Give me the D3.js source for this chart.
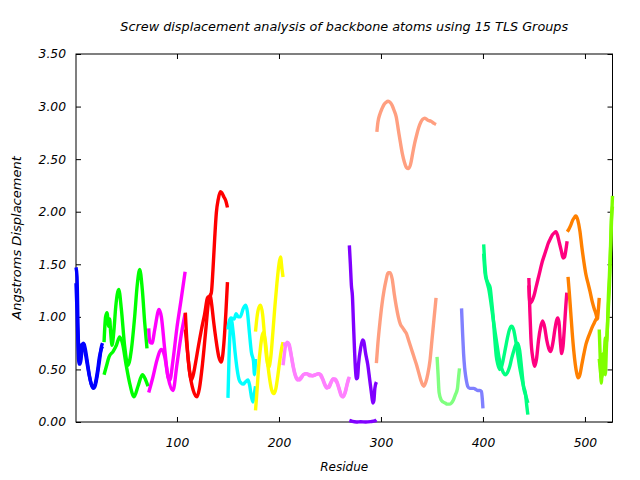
<!DOCTYPE html>
<html><head><meta charset="utf-8">
<script src="https://cdn.jsdelivr.net/npm/d3@7"></script>
<style>
html,body{margin:0;padding:0;background:#fff;}
text{font-family:"DejaVu Sans",sans-serif;font-style:italic;font-size:12px;fill:#000;}
</style></head>
<body>
<svg id="chart" width="640" height="480"></svg>
<script>
// ---- Data (residue, displacement) ----
const chartTitle = "Screw displacement analysis of backbone atoms using 15 TLS Groups";
const xLabel = "Residue";
const yLabel = "Angstroms Displacement";
const xTicks = [100, 200, 300, 400, 500];
const yTicks = [0, 0.5, 1.0, 1.5, 2.0, 2.5, 3.0, 3.5];
const groupColors = ["#0000ff","#00ff00","#ff00ff","#ff0000","#00ffff","#ffff00","#ff80ff","#8000ff","#ff9f80","#80ff80","#8080ff","#00ff80","#ff0080","#ff8000","#80ff00"];

const blueA = [[1,1.47],[2,1.38],[3,0.9],[4,0.6],[5,0.55],[6,0.6],[7,0.7],[8,0.75],[9,0.74],[10,0.7],[12,0.58],[14,0.45],[16,0.36],[18,0.32],[20,0.35],[22,0.45],[24,0.58],[26,0.72],[27,0.75]];
const blueB = [[1,1.32],[2,1.05],[3,0.72],[4,0.55],[5,0.62],[6,0.72],[7,0.74],[8,0.72],[10,0.66],[12,0.55],[14,0.44],[16,0.36],[18,0.33],[20,0.37],[22,0.48],[24,0.62],[26,0.7],[27,0.72]];
const greenA = [[28.5,0.76],[30,1.0],[31.4,1.04],[33,0.91],[34,0.98],[35,0.85],[36.3,0.73],[38,0.85],[40,1.1],[42.9,1.26],[45.5,1.07],[48.7,0.72],[52,0.54],[55.3,0.69],[58.5,1.0],[61,1.3],[63.5,1.45],[66,1.26],[68.4,0.94],[70.6,0.7]];
const greenB = [[28.5,0.45],[30.8,0.53],[33.4,0.62],[37.3,0.67],[40.6,0.73],[43.8,0.81],[46.5,0.75],[50.4,0.53],[53.6,0.37],[57.9,0.24],[61.8,0.34],[66.1,0.45],[69.3,0.4],[71.6,0.34]];
const magentaA = [[72.3,0.89],[73.3,0.76],[75.5,0.75],[78.2,0.88],[82.4,1.07],[84.7,1.0],[88,0.69],[91.2,0.43],[93,0.4],[96,0.58],[100,0.9],[104,1.16],[108,1.43]];
const magentaB = [[72.3,0.28],[76.5,0.43],[80.4,0.59],[84.7,0.69],[88,0.62],[91.2,0.43],[96.1,0.3],[100,0.55],[104,0.82],[108,1.03]];
const redA = [[108.2,1.04],[110,0.72],[112,0.5],[114,0.38],[116,0.3],[119.6,0.24],[122,0.32],[125,0.55],[128,0.85],[131,1.15],[132.5,1.21],[134,1.12],[136,0.95],[138,0.8],[141,0.62],[143.5,0.57],[146,0.75],[148,1.05],[149.5,1.33]];
const redB = [[108.2,0.88],[110.8,0.62],[112.5,0.47],[114.1,0.4],[116,0.45],[118,0.55],[121,0.72],[124,0.88],[127,1.02],[130.4,1.19],[132,1.19],[133.7,1.23],[135.3,1.45],[137,1.75],[138.6,1.99],[140.5,2.12],[142.5,2.19],[144,2.18],[146,2.14],[148,2.1],[149.5,2.04]];
const cyanA = [[150,0.88],[151,0.95],[153,0.99],[156,0.98],[158,1.03],[160,1.0],[162,1.0],[165,1.08],[167.4,1.11],[169,1.05],[171,0.85],[173,0.66],[175,0.58],[176,0.45],[177,0.6]];
const cyanB = [[150,0.23],[151,0.6],[152,0.85],[153.3,0.97],[155,0.86],[157,0.66],[159,0.5],[161,0.4],[163,0.37],[165,0.36],[167,0.38],[169.6,0.4],[171,0.36],[173,0.24],[174.5,0.19],[176,0.28],[177,0.34]];
const yellowA = [[177,0.86],[178.5,1.0],[180,1.08],[182,1.11],[184,1.02],[186,0.8],[188,0.6],[190,0.52],[192,0.62],[194,0.85],[196,1.1],[198,1.32],[200,1.5],[201.5,1.57],[203,1.45],[204,1.38]];
const yellowB = [[177,0.11],[178.5,0.3],[180,0.52],[182,0.72],[184.5,0.85],[186.5,0.78],[189,0.55],[191,0.4],[193,0.3],[195,0.27],[197,0.32],[199,0.45],[201,0.6],[203,0.72],[204,0.76]];
const pinkA = [[204,0.54],[205,0.62],[206,0.7],[208,0.76],[210,0.74],[212,0.64],[214,0.53],[216,0.45],[218,0.41],[220,0.4],[222,0.42],[224,0.45],[227,0.46],[230,0.45],[233,0.44],[236,0.45],[239,0.46],[241,0.45],[243,0.41],[245,0.36],[247,0.33],[249,0.33],[251,0.37],[253,0.41],[255,0.41],[257,0.38],[259,0.32],[261,0.26],[263,0.24],[265,0.28],[267,0.36],[269,0.43]];
const pinkB = [[204,0.74],[206,0.74],[208,0.75],[210,0.72],[212,0.63],[214,0.52],[216,0.44],[218,0.4],[220,0.41],[222,0.43],[224,0.45],[227,0.46],[230,0.44],[233,0.44],[236,0.45],[239,0.46],[241,0.44],[243,0.4],[245,0.35],[247,0.32],[249,0.34],[251,0.38],[253,0.41],[255,0.4],[257,0.37],[259,0.31],[261,0.25],[263,0.24],[265,0.29],[267,0.37],[268.5,0.42]];
const purpleA = [[269,1.68],[270,1.5],[271,1.3],[272,1.2],[273,0.95],[274,0.7],[275,0.5],[276,0.41],[277,0.42],[278,0.55],[280,0.7],[282,0.78],[283,0.77],[285,0.65],[287,0.55],[289,0.4],[291,0.25],[292,0.18],[293,0.2],[294,0.32],[295.5,0.38]];
const purpleB = [[269,0.015],[272,0.005],[276,0.0],[280,0.003],[285,0.0],[290,0.004],[294,0.01],[295.5,0.02]];
const salmonA = [[296,2.76],[297,2.85],[299,2.93],[301,2.98],[303,3.02],[305,3.04],[307,3.05],[309,3.04],[311,3.01],[313,2.96],[315,2.9],[317,2.78],[319,2.66],[321,2.55],[323,2.47],[325,2.42],[327,2.41],[329,2.45],[331,2.55],[333,2.65],[335,2.73],[337,2.8],[339,2.85],[341,2.88],[343,2.89],[346,2.87],[349,2.86],[352,2.84],[354,2.83]];
const salmonB = [[295.5,0.56],[297,0.75],[299,0.95],[301,1.12],[303,1.25],[305,1.35],[307,1.42],[309,1.42],[311,1.36],[313,1.22],[315,1.1],[317,1.0],[319,0.93],[321,0.9],[323,0.87],[325,0.84],[327,0.78],[329,0.72],[331,0.66],[333,0.6],[335,0.54],[337,0.47],[339,0.4],[341,0.35],[342,0.34],[344,0.38],[346,0.46],[348,0.58],[350,0.78],[352,0.98],[354,1.18]];
const lightGreenA = [[355,0.62],[356,0.45],[357,0.28],[359,0.21],[361,0.19],[363,0.18],[365,0.17],[367,0.17],[369,0.18],[371,0.21],[373,0.26],[375,0.32],[376,0.42],[377,0.51]];
const periwinkleA = [[379,1.08],[380,0.85],[381,0.65],[382,0.52],[383,0.44],[384,0.38],[385,0.34],[387,0.32],[389,0.32],[391,0.32],[393,0.31],[395,0.3],[397,0.3],[398.5,0.29],[399.5,0.2],[400,0.13]];
const springA = [[400.7,1.69],[401.5,1.55],[403,1.38],[405,1.32],[407,1.28],[408.5,1.15],[410,1.0],[411.5,0.8],[413,0.63],[414.5,0.55],[416.4,0.5],[418,0.52],[420,0.6],[422,0.7],[424,0.8],[426,0.88],[428,0.91],[430,0.88],[432,0.78],[434,0.65],[436,0.52],[438,0.42],[440,0.33],[441.5,0.28],[443,0.15],[444,0.07]];
const springB = [[400.7,1.6],[402,1.42],[404,1.33],[406,1.25],[408,1.12],[410,0.98],[412,0.85],[414,0.72],[416,0.6],[418,0.52],[420,0.47],[422,0.45],[424,0.47],[426,0.52],[428,0.6],[430,0.67],[432,0.73],[434,0.75],[436,0.68],[438,0.5],[440,0.32],[442,0.25],[444,0.18]];
const deepPinkA = [[445,1.3],[446,1.13],[448,1.15],[450,1.2],[452,1.28],[454,1.36],[456,1.44],[458,1.52],[460,1.58],[462,1.64],[464,1.7],[466,1.74],[468,1.78],[470,1.8],[471.5,1.81],[473,1.78],[475,1.7],[477,1.62],[478.5,1.56],[480,1.57],[481.5,1.65],[482.5,1.72]];
const deepPinkB = [[445,1.37],[446,1.05],[447,0.8],[449,0.6],[450.7,0.53],[452.5,0.6],[454.5,0.78],[456.5,0.9],[458.5,0.96],[460.5,0.9],[462.5,0.78],[464.5,0.7],[466.4,0.67],[468.5,0.75],[470.5,0.88],[472,0.96],[473.3,0.99],[474.5,0.95],[476,0.75],[477.2,0.65],[478.5,0.72],[480,0.92],[481.2,1.1],[482.2,1.23]];
const orangeA = [[482.7,1.81],[484,1.83],[486,1.87],[488,1.92],[490,1.95],[491,1.96],[493,1.92],[495,1.82],[497,1.66],[499,1.52],[501,1.4],[503,1.32],[505,1.24],[507,1.15],[509,1.08],[511,1.02],[512,0.98],[513,1.05],[514,1.18]];
const orangeB = [[483.4,1.38],[484.5,1.25],[486,1.05],[487.5,0.85],[489,0.68],[490.5,0.55],[492,0.46],[493.2,0.42],[495,0.45],[497,0.55],[499,0.65],[501,0.74],[503,0.8],[505,0.85],[507,0.9],[509,0.94],[511,0.98],[513.4,1.0]];
const chartreuseA = [[514,0.88],[515,0.6],[516,0.37],[517,0.55],[518,0.65],[519,0.5],[520,0.45],[521,0.7],[522,0.9],[523,1.1],[524,1.3],[525,1.6],[526,1.9],[527,2.15]];
const chartreuseB = [[514,0.6],[515,0.5],[516,0.42],[517,0.45],[518,0.52],[519,0.65],[520,0.8],[521,0.75],[522,0.9],[523,1.2],[524,1.4],[525,1.65],[526,1.95],[527,2.05]];

const groups = [
  [blueA, blueB], [greenA, greenB], [magentaA, magentaB], [redA, redB],
  [cyanA, cyanB], [yellowA, yellowB], [pinkA, pinkB], [purpleA, purpleB],
  [salmonA, salmonB], [lightGreenA], [periwinkleA], [springA, springB],
  [deepPinkA, deepPinkB], [orangeA, orangeB], [chartreuseA, chartreuseB]
];

// ---- Layout ----
const L = 76, R = 612.5, T = 54, B = 422;
const svg = d3.select("#chart");
const x = d3.scaleLinear().domain([1, 527]).range([L, R]);
const y = d3.scaleLinear().domain([0, 3.5]).range([B, T]);
const tickLen = 5;

// frame
svg.append("rect").attr("x", L).attr("y", T).attr("width", R - L).attr("height", B - T)
  .attr("fill", "none").attr("stroke", "#000").attr("stroke-width", 1);

// axes via d3 (inward ticks on all sides)
const fmt = d3.format(".2f");
const gL = svg.append("g").attr("transform", `translate(${L},0)`)
  .call(d3.axisLeft(y).tickValues(yTicks).tickFormat(fmt).tickSizeInner(-tickLen).tickSizeOuter(0).tickPadding(10));
const gR = svg.append("g").attr("transform", `translate(${R},0)`)
  .call(d3.axisRight(y).tickValues(yTicks).tickFormat("").tickSizeInner(-tickLen).tickSizeOuter(0));
const gB = svg.append("g").attr("transform", `translate(0,${B})`)
  .call(d3.axisBottom(x).tickValues(xTicks).tickFormat(d3.format("d")).tickSizeInner(-tickLen).tickSizeOuter(0).tickPadding(16));
const gT = svg.append("g").attr("transform", `translate(0,${T})`)
  .call(d3.axisTop(x).tickValues(xTicks).tickFormat("").tickSizeInner(-tickLen).tickSizeOuter(0));
[gL, gR, gB, gT].forEach(g => {
  g.select(".domain").remove();
  g.selectAll("line").attr("stroke", "#000");
  g.selectAll("text").attr("font-family", null).attr("font-size", null).style("font-family", "'DejaVu Sans',sans-serif").style("font-style", "italic").style("font-size", "12.3px");
});

// curves
const line = d3.line().x(d => x(d[0])).y(d => y(d[1])).curve(d3.curveMonotoneX);
groups.forEach((g, i) => {
  g.forEach(series => {
    svg.append("path").datum(series).attr("d", line)
      .attr("fill", "none").attr("stroke", groupColors[i]).attr("stroke-width", 3.4)
      .attr("stroke-linejoin", "round").attr("stroke-linecap", "butt");
  });
});

// labels
svg.append("text").attr("x", (L + R) / 2).attr("y", 31).attr("text-anchor", "middle").style("font-size", "12.8px").text(chartTitle);
svg.append("text").attr("x", (L + R) / 2).attr("y", 471).attr("text-anchor", "middle").text(xLabel);
svg.append("text").attr("transform", `translate(21,${(T + B) / 2}) rotate(-90)`).attr("text-anchor", "middle").style("font-size", "13px").text(yLabel);
</script>
</body></html>
